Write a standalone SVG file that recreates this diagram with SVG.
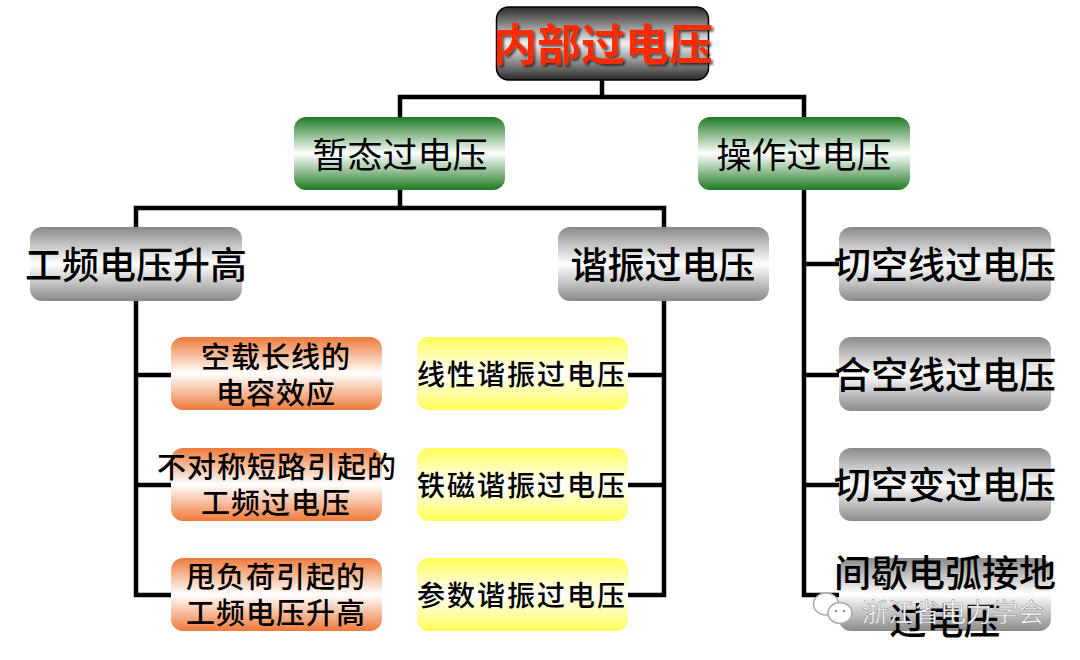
<svg xmlns="http://www.w3.org/2000/svg" width="1080" height="660" viewBox="0 0 1080 660">
<style>
text{font-family:"Noto Sans CJK SC","Liberation Sans",sans-serif;text-anchor:middle;fill:#000}
.l{font-size:29px;font-weight:500;letter-spacing:1px}
.m{font-size:35px;font-weight:400}
.g{font-size:37px;font-weight:500}
.s{font-size:28px;font-weight:500;letter-spacing:2px}
.c path{fill:none;stroke:#000;stroke-width:4.5}
</style>
<defs>
<linearGradient id="k" x1="0" y1="0" x2="0" y2="1"><stop offset="0" stop-color="#2a2a2a"/><stop offset=".5" stop-color="#f0f0f0"/><stop offset="1" stop-color="#2a2a2a"/></linearGradient>
<linearGradient id="gr" x1="0" y1="0" x2="0" y2="1"><stop offset="0" stop-color="#1f7a24"/><stop offset=".5" stop-color="#fff"/><stop offset="1" stop-color="#1f7a24"/></linearGradient>
<linearGradient id="gy" x1="0" y1="0" x2="0" y2="1"><stop offset="0" stop-color="#8a8a8a"/><stop offset=".5" stop-color="#fff"/><stop offset="1" stop-color="#8a8a8a"/></linearGradient>
<linearGradient id="o" x1="0" y1="0" x2="0" y2="1"><stop offset="0" stop-color="#ee7a3a"/><stop offset=".5" stop-color="#fff"/><stop offset="1" stop-color="#ee7a3a"/></linearGradient>
<linearGradient id="y" x1="0" y1="0" x2="0" y2="1"><stop offset="0" stop-color="#ffff55"/><stop offset=".5" stop-color="#fff"/><stop offset="1" stop-color="#ffff55"/></linearGradient>
<filter id="sh" x="-10%" y="-20%" width="120%" height="140%"><feDropShadow dx="2" dy="2" stdDeviation="1" flood-color="#000" flood-opacity=".6"/></filter>
</defs>
<rect width="1080" height="660" fill="#fff"/>
<g class="c" id="connectors">
<path d="M602 80V97M400 117V97H804V117"/>
<path d="M400 190V208M136 227V208H664V227"/>
<path d="M136 300V595H171M136 375H171M136 485H171"/>
<path d="M664 300V595H628M664 375H628M664 485H628"/>
<path d="M804 190V595H839M804 264H839M804 375H839M804 485H839"/>
</g>
<g id="n-root"><rect x="496.500" y="7" width="212" height="73" rx="12" fill="url(#k)" stroke="#000" stroke-width="1.500"/><text x="603" y="61" font-size="44" font-weight="700" style="fill:#ff2a00" filter="url(#sh)">内部过电压</text></g>
<g id="n-transient"><rect x="294" y="117" width="211" height="73" rx="12" fill="url(#gr)"/><text class="m" x="400" y="168">暂态过电压</text></g>
<g id="n-switching"><rect x="698" y="117" width="212" height="73" rx="12" fill="url(#gr)"/><text class="m" x="804" y="168">操作过电压</text></g>
<g id="n-pf"><rect x="30" y="227" width="212" height="74" rx="12" fill="url(#gy)"/><text class="g" x="136" y="279">工频电压升高</text></g>
<g id="n-res"><rect x="558" y="227" width="211" height="74" rx="12" fill="url(#gy)"/><text class="g" x="663" y="279">谐振过电压</text></g>
<g id="n-a1"><rect x="171" y="337" width="211" height="73" rx="12" fill="url(#o)"/><text class="l" x="276" y="368">空载长线的</text><text class="l" x="276" y="404">电容效应</text></g>
<g id="n-a2"><rect x="171" y="448" width="211" height="73" rx="12" fill="url(#o)"/><text class="l" x="277" y="478">不对称短路引起的</text><text class="l" x="276" y="514">工频过电压</text></g>
<g id="n-a3"><rect x="171" y="558" width="211" height="73" rx="12" fill="url(#o)"/><text class="l" x="276" y="588">甩负荷引起的</text><text class="l" x="276" y="624">工频电压升高</text></g>
<g id="n-b1"><rect x="417" y="337" width="211" height="73" rx="12" fill="url(#y)"/><text class="s" x="522" y="385">线性谐振过电压</text></g>
<g id="n-b2"><rect x="417" y="448" width="211" height="73" rx="12" fill="url(#y)"/><text class="s" x="522" y="496">铁磁谐振过电压</text></g>
<g id="n-b3"><rect x="417" y="558" width="211" height="73" rx="12" fill="url(#y)"/><text class="s" x="522" y="606">参数谐振过电压</text></g>
<g id="n-c1"><rect x="839" y="227" width="212" height="74" rx="12" fill="url(#gy)"/><text class="g" x="945" y="279">切空线过电压</text></g>
<g id="n-c2"><rect x="839" y="337" width="212" height="74" rx="12" fill="url(#gy)"/><text class="g" x="945" y="389">合空线过电压</text></g>
<g id="n-c3"><rect x="839" y="448" width="212" height="73" rx="12" fill="url(#gy)"/><text class="g" x="945" y="499">切空变过电压</text></g>
<g id="n-c4"><rect x="839" y="558" width="212" height="73" rx="12" fill="url(#gy)"/><text class="g" x="945" y="587">间歇电弧接地</text><text class="g" x="945" y="635">过电压</text></g>
<g id="watermark">
<ellipse cx="826" cy="604" rx="12.500" ry="11" fill="#fff" stroke="#aaa" stroke-width="1.500"/>
<ellipse cx="840" cy="613" rx="12" ry="10.500" fill="#fff" stroke="#aaa" stroke-width="1.500"/>
<circle cx="836" cy="611" r="1.300" fill="#999"/><circle cx="844" cy="611" r="1.300" fill="#999"/>
<text x="953" y="622" font-size="26" font-weight="400" style="fill:#fff;stroke:#888;stroke-width:.5">浙江省电力学会</text>
</g>
</svg>
